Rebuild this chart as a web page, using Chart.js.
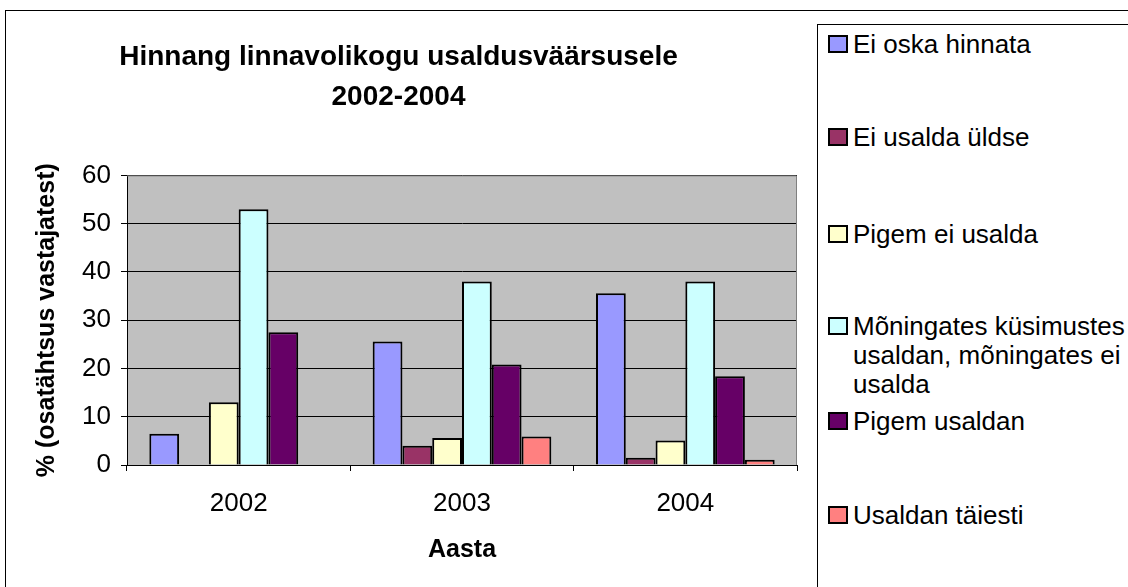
<!DOCTYPE html>
<html>
<head>
<meta charset="utf-8">
<script src="https://cdn.jsdelivr.net/npm/chart.js@4.4.1/dist/chart.umd.min.js"></script>
<style>
    body { margin: 0; background: #fff; overflow: hidden; font-family: Arial, "Liberation Sans", sans-serif; }
    #wrap { position: relative; width: 1128px; height: 587px; overflow: hidden; }
    #frame { position: absolute; left: 5px; top: 10px; width: 1200px; height: 700px; border: 1px solid #000; }
    #chart { position: absolute; left: 0; top: 0; }
    #legend { position: absolute; left: 817px; top: 24px; width: 400px; height: 700px; border: 1px solid #000; background: #fff; }
    .item { position: absolute; left: 10px; width: 300px; font-size: 26px; line-height: 29px; color: #000; padding-left: 25px; }
    .box { position: absolute; left: 0; top: 5px; width: 20px; height: 18px; border: 2px solid #000; box-sizing: border-box; }
</style>
</head>
<body>
<div id="wrap">
    <div id="frame"></div>
    <canvas id="chart" width="1128" height="587"></canvas>
    <div id="legend"></div>
</div>
<script>
const years = ['2002', '2003', '2004'];

const eiOska = [6.5, 25.6, 35.6];
const eiUsaldaYldse = [null, 4.0, 1.5];
const pigemEiUsalda = [13.0, 5.6, 5.1];
const moningates = [53.0, 38.0, 38.0];
const pigemUsaldan = [27.5, 20.8, 18.4];
const usaldanTaiesti = [null, 5.9, 1.1];

const seriesNames = [
    'Ei oska hinnata',
    'Ei usalda üldse',
    'Pigem ei usalda',
    'Mõningates küsimustes usaldan, mõningates ei usalda',
    'Pigem usaldan',
    'Usaldan täiesti'
];
const seriesColors = ['#9999FF', '#993366', '#FFFFCC', '#CCFFFF', '#660066', '#FF8080'];
const seriesData = [eiOska, eiUsaldaYldse, pigemEiUsalda, moningates, pigemUsaldan, usaldanTaiesti];

const plotBackground = {
    id: 'plotBackground',
    beforeDraw(chart) {
        const { ctx, chartArea: a } = chart;
        ctx.save();
        ctx.fillStyle = '#C0C0C0';
        ctx.fillRect(a.left, a.top, a.right - a.left, a.bottom - a.top);
        ctx.restore();
    },
    afterDraw(chart) {
        const { ctx, chartArea: a } = chart;
        ctx.save();
        ctx.strokeStyle = '#808080';
        ctx.lineWidth = 1;
        ctx.beginPath();
        ctx.moveTo(a.left, a.top + 0.5);
        ctx.lineTo(a.right - 0.5, a.top + 0.5);
        ctx.lineTo(a.right - 0.5, a.bottom);
        ctx.stroke();
        ctx.restore();
    }
};

const ctx = document.getElementById('chart').getContext('2d');

const chart = new Chart(ctx, {
    type: 'bar',
    data: {
        labels: years,
        datasets: seriesNames.map((name, i) => ({
            label: name,
            data: seriesData[i],
            backgroundColor: seriesColors[i],
            borderColor: '#000',
            borderWidth: 2,
            borderSkipped: 'bottom',
            categoryPercentage: 0.8,
            barPercentage: 1.0
        }))
    },
    options: {
        responsive: false,
        animation: false,
        layout: {
            padding: { left: 0, right: 331, top: 0, bottom: 0 }
        },
        plugins: {
            legend: { display: false },
            tooltip: { enabled: false },
            title: {
                display: true,
                text: ['Hinnang linnavolikogu usaldusväärsusele', '2002-2004'],
                color: '#000',
                font: { family: 'Arial, "Liberation Sans"', size: 28, weight: 'bold', lineHeight: 1.4 },
                padding: { top: 38, bottom: 59 }
            }
        },
        scales: {
            x: {
                grid: {
                    offset: true,
                    drawOnChartArea: false,
                    color: '#000',
                    tickLength: 6
                },
                border: { color: '#000' },
                ticks: {
                    color: '#000',
                    padding: 17,
                    font: { family: 'Arial, "Liberation Sans"', size: 26 }
                },
                title: {
                    display: true,
                    text: 'Aasta',
                    color: '#000',
                    font: { family: 'Arial, "Liberation Sans"', size: 25, weight: 'bold' },
                    padding: { top: 0, bottom: 22 }
                },
                afterFit(scale) { scale.height = 122; }
            },
            y: {
                min: 0,
                max: 60,
                ticks: {
                    stepSize: 10,
                    color: '#000',
                    padding: 10,
                    font: { family: 'Arial, "Liberation Sans"', size: 26 }
                },
                grid: {
                    color: '#000',
                    tickLength: 6
                },
                border: { color: '#000' },
                title: {
                    display: true,
                    text: '% (osatähtsus vastajatest)',
                    color: '#000',
                    font: { family: 'Arial, "Liberation Sans"', size: 25, weight: 'bold' },
                    padding: { top: 32, bottom: 0 }
                },
                afterFit(scale) { scale.width = 127; }
            }
        }
    },
    plugins: [plotBackground]
});

// legend in its own framed box on the right
const legendTops = [5, 98, 195, 287, 382, 476];
const legendEl = document.getElementById('legend');
chart.data.datasets.forEach((ds, i) => {
    const item = document.createElement('div');
    item.className = 'item';
    item.style.top = legendTops[i] + 'px';
    const box = document.createElement('span');
    box.className = 'box';
    box.style.background = ds.backgroundColor;
    item.appendChild(box);
    item.appendChild(document.createTextNode(ds.label));
    legendEl.appendChild(item);
});
</script>
</body>
</html>
